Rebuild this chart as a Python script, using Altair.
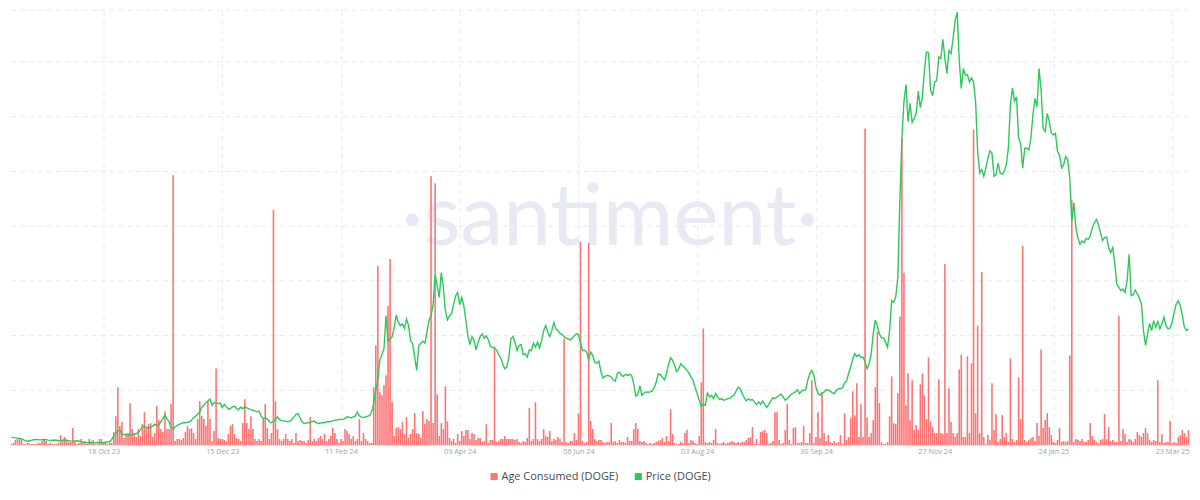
import altair as alt
import pandas as pd

# ---------------- data ----------------
START = "2023-08-31"  # first daily point

price = [
    0.0640, 0.0638, 0.0636, 0.0637, 0.0632, 0.0630, 0.0628, 0.0625, 0.0620, 0.0612,
    0.0600, 0.0598, 0.0605, 0.0608, 0.0612, 0.0614, 0.0613, 0.0611, 0.0612, 0.0614,
    0.0612, 0.0608, 0.0606, 0.0607, 0.0609, 0.0607, 0.0605, 0.0604, 0.0606, 0.0609,
    0.0607, 0.0604, 0.0601, 0.0599, 0.0600, 0.0602, 0.0598, 0.0594, 0.0590, 0.0587,
    0.0585, 0.0584, 0.0583, 0.0582, 0.0584, 0.0586, 0.0583, 0.0582, 0.0584, 0.0586,
    0.0592, 0.0593, 0.0615, 0.0647, 0.0670, 0.0698, 0.0704, 0.0666, 0.0660, 0.0666,
    0.0660, 0.0657, 0.0660, 0.0666, 0.0672, 0.0680, 0.0704, 0.0736, 0.0742, 0.0730,
    0.0720, 0.0730, 0.0742, 0.0761, 0.0749, 0.0755, 0.0784, 0.0815, 0.0847, 0.0815,
    0.0784, 0.0730, 0.0717, 0.0736, 0.0749, 0.0758, 0.0768, 0.0774, 0.0774, 0.0780,
    0.0784, 0.0799, 0.0822, 0.0837, 0.0856, 0.0879, 0.0923, 0.0942, 0.0967, 0.0983,
    0.1002, 0.0942, 0.0967, 0.0964, 0.0958, 0.0964, 0.0920, 0.0951, 0.0926, 0.0904,
    0.0913, 0.0926, 0.0932, 0.0910, 0.0900, 0.0923, 0.0910, 0.0926, 0.0917, 0.0907,
    0.0900, 0.0894, 0.0885, 0.0879, 0.0885, 0.0837, 0.0815, 0.0821, 0.0812, 0.0784,
    0.0774, 0.0787, 0.0806, 0.0831, 0.0806, 0.0793, 0.0793, 0.0790, 0.0784, 0.0790,
    0.0806, 0.0831, 0.0853, 0.0863, 0.0821, 0.0784, 0.0768, 0.0771, 0.0774, 0.0780,
    0.0784, 0.0790, 0.0774, 0.0768, 0.0771, 0.0774, 0.0777, 0.0784, 0.0784, 0.0787,
    0.0793, 0.0799, 0.0802, 0.0806, 0.0806, 0.0809, 0.0815, 0.0831, 0.0828, 0.0821,
    0.0831, 0.0840, 0.0875, 0.0840, 0.0828, 0.0825, 0.0831, 0.0837, 0.0844, 0.0879,
    0.0964, 0.1090, 0.1186, 0.1376, 0.1427, 0.1481, 0.1798, 0.1554, 0.1573, 0.1598,
    0.1687, 0.1804, 0.1734, 0.1703, 0.1719, 0.1677, 0.1766, 0.1703, 0.1560, 0.1529,
    0.1402, 0.1275, 0.1513, 0.1535, 0.1554, 0.1535, 0.1640, 0.1754, 0.1798, 0.1903,
    0.2194, 0.2083, 0.1972, 0.2210, 0.2067, 0.1845, 0.1757, 0.1798, 0.1814, 0.1903,
    0.1988, 0.2020, 0.1903, 0.1972, 0.1893, 0.1750, 0.1608, 0.1522, 0.1598, 0.1560,
    0.1471, 0.1544, 0.1598, 0.1624, 0.1582, 0.1605, 0.1566, 0.1503, 0.1497, 0.1484,
    0.1471, 0.1427, 0.1395, 0.1338, 0.1291, 0.1307, 0.1402, 0.1576, 0.1598, 0.1544,
    0.1465, 0.1513, 0.1522, 0.1427, 0.1433, 0.1402, 0.1471, 0.1465, 0.1535, 0.1497,
    0.1544, 0.1490, 0.1560, 0.1655, 0.1703, 0.1640, 0.1598, 0.1655, 0.1734, 0.1671,
    0.1655, 0.1630, 0.1617, 0.1598, 0.1582, 0.1576, 0.1566, 0.1585, 0.1608, 0.1624,
    0.1617, 0.1535, 0.1465, 0.1465, 0.1449, 0.1376, 0.1449, 0.1417, 0.1354, 0.1345,
    0.1364, 0.1259, 0.1202, 0.1218, 0.1227, 0.1224, 0.1211, 0.1186, 0.1173, 0.1249,
    0.1259, 0.1227, 0.1218, 0.1237, 0.1227, 0.1237, 0.1224, 0.1148, 0.1030, 0.1043,
    0.1129, 0.1037, 0.1059, 0.1069, 0.1066, 0.1069, 0.1078, 0.1110, 0.1164, 0.1243,
    0.1234, 0.1211, 0.1186, 0.1243, 0.1332, 0.1395, 0.1370, 0.1322, 0.1265, 0.1291,
    0.1338, 0.1316, 0.1297, 0.1275, 0.1249, 0.1211, 0.1180, 0.1110, 0.1053, 0.0990,
    0.0932, 0.0951, 0.0942, 0.1059, 0.1021, 0.1037, 0.1005, 0.1053, 0.1021, 0.0996,
    0.1005, 0.0990, 0.0996, 0.1005, 0.1008, 0.1027, 0.1037, 0.1078, 0.1116, 0.1100,
    0.1053, 0.1015, 0.0983, 0.1005, 0.0990, 0.0996, 0.0974, 0.0948, 0.0974, 0.0951,
    0.0983, 0.0951, 0.0920, 0.0951, 0.0983, 0.1015, 0.1005, 0.1021, 0.1037, 0.1047,
    0.1021, 0.0990, 0.1005, 0.1027, 0.1047, 0.1059, 0.1069, 0.1091, 0.1053, 0.1079,
    0.1085, 0.1091, 0.1180, 0.1244, 0.1275, 0.1228, 0.1117, 0.1053, 0.1038, 0.1060,
    0.1069, 0.1091, 0.1085, 0.1079, 0.1060, 0.1053, 0.1085, 0.1101, 0.1101, 0.1110,
    0.1155, 0.1174, 0.1250, 0.1307, 0.1386, 0.1434, 0.1408, 0.1427, 0.1396, 0.1402,
    0.1355, 0.1291, 0.1339, 0.1434, 0.1624, 0.1757, 0.1703, 0.1624, 0.1586, 0.1586,
    0.1545, 0.1497, 0.1656, 0.1941, 0.1925, 0.1979, 0.2163, 0.2892, 0.3494, 0.3843,
    0.4008, 0.3653, 0.3827, 0.3646, 0.3684, 0.3732, 0.3944, 0.3786, 0.3890, 0.4144,
    0.4319, 0.4312, 0.3954, 0.3900, 0.4033, 0.4046, 0.4271, 0.4255, 0.4439, 0.4255,
    0.4112, 0.4334, 0.4303, 0.4445, 0.4620, 0.4699, 0.4239, 0.3970, 0.4160, 0.4097,
    0.4103, 0.4033, 0.4071, 0.4033, 0.3843, 0.3368, 0.3161, 0.3193, 0.3130, 0.3209,
    0.3304, 0.3374, 0.3352, 0.3130, 0.3146, 0.3257, 0.3161, 0.3152, 0.3177, 0.3241,
    0.3399, 0.3811, 0.3976, 0.3849, 0.3890, 0.3494, 0.3447, 0.3209, 0.3399, 0.3399,
    0.3383, 0.3494, 0.3716, 0.3875, 0.3795, 0.4160, 0.3954, 0.3589, 0.3558, 0.3732,
    0.3653, 0.3542, 0.3526, 0.3542, 0.3368, 0.3336, 0.3209, 0.3241, 0.3320, 0.3288,
    0.3114, 0.2702, 0.2876, 0.2638, 0.2537, 0.2480, 0.2512, 0.2496, 0.2537, 0.2527,
    0.2559, 0.2638, 0.2686, 0.2718, 0.2670, 0.2591, 0.2518, 0.2543, 0.2550, 0.2448,
    0.2401, 0.2448, 0.2290, 0.2100, 0.2068, 0.2036, 0.2052, 0.2020, 0.2131, 0.2385,
    0.1989, 0.1998, 0.2043, 0.2005, 0.1966, 0.1909, 0.1656, 0.1513, 0.1624, 0.1725,
    0.1656, 0.1751, 0.1687, 0.1744, 0.1672, 0.1719, 0.1783, 0.1703, 0.1672, 0.1681,
    0.1735, 0.1830, 0.1909, 0.1941, 0.1894, 0.1798, 0.1687, 0.1656, 0.1672, 0.1735,
]

# Age consumed, billions
age = [
    0.4, 0.3, 0.1, 0.1, 0.2, 0.5, 0.6, 0.6, 0.5, 0.1,
    0.1, 0.2, 0.1, 0.1, 0.1, 0.1, 0.2, 0.2, 0.4, 0.5,
    0.4, 0.1, 0.2, 0.1, 0.1, 0.1, 0.2, 1.0, 0.6, 0.8,
    0.5, 0.3, 0.3, 1.7, 0.4, 0.1, 0.2, 0.6, 0.3, 0.4,
    0.1, 0.6, 0.4, 0.5, 0.1, 0.1, 0.6, 0.6, 0.2, 0.4,
    0.1, 0.2, 0.2, 1.3, 2.9, 5.8, 1.9, 2.3, 0.7, 1.1,
    1.2, 4.2, 1.6, 1.2, 0.8, 1.6, 0.9, 2.1, 3.3, 1.7,
    2.1, 2.2, 0.8, 1.2, 3.9, 2.5, 1.6, 1.3, 3.4, 1.6,
    1.6, 4.1, 27.1, 0.4, 0.6, 0.6, 0.5, 0.7, 1.3, 1.9,
    1.6, 1.7, 1.2, 0.6, 2.6, 4.4, 2.9, 2.6, 1.9, 4.4,
    2.6, 0.4, 1.4, 7.7, 0.7, 0.6, 0.6, 0.5, 0.4, 1.1,
    1.9, 2.1, 1.1, 0.7, 0.6, 0.4, 2.2, 4.6, 2.2, 1.6,
    2.9, 1.6, 0.6, 0.4, 0.6, 0.4, 2.6, 4.1, 1.7, 0.6,
    1.2, 23.6, 4.4, 1.6, 0.6, 0.4, 0.6, 1.1, 0.6, 0.4,
    0.6, 0.2, 1.2, 0.4, 0.5, 0.4, 0.4, 0.2, 0.5, 2.8,
    0.4, 0.6, 0.4, 0.7, 0.9, 0.6, 1.1, 0.4, 0.6, 0.9,
    1.7, 1.2, 0.6, 0.2, 0.6, 0.4, 1.6, 1.4, 1.1, 0.6,
    0.9, 0.4, 0.6, 2.6, 0.4, 1.2, 0.6, 0.4, 0.2, 0.2,
    5.8, 10.0, 18.0, 5.3, 5.0, 6.0, 7.0, 14.0, 18.7, 4.3,
    0.9, 1.7, 1.8, 1.6, 2.3, 1.1, 2.8, 0.7, 1.1, 1.6,
    3.2, 1.2, 1.1, 0.7, 3.4, 2.1, 2.6, 2.4, 27.0, 2.2,
    26.3, 5.1, 0.9, 2.2, 1.6, 5.9, 2.4, 0.7, 0.4, 0.6,
    0.2, 1.1, 0.4, 1.4, 0.9, 1.5, 1.5, 0.6, 1.2, 1.1,
    0.5, 0.7, 0.7, 0.3, 0.4, 2.1, 0.2, 0.5, 0.5, 9.9,
    0.3, 0.4, 0.6, 0.6, 0.9, 0.6, 0.6, 0.6, 0.6, 0.5,
    0.6, 0.3, 0.2, 0.4, 0.3, 0.7, 3.7, 0.4, 0.6, 4.3,
    0.6, 0.4, 0.6, 1.6, 0.9, 0.8, 1.4, 0.4, 0.6, 0.5,
    0.8, 0.6, 0.3, 10.7, 0.3, 0.2, 0.4, 0.4, 1.2, 0.5,
    3.2, 20.4, 0.4, 0.2, 0.3, 20.3, 2.4, 1.6, 0.6, 0.4,
    0.5, 0.5, 0.3, 0.2, 0.3, 0.3, 2.2, 0.3, 0.4, 0.2,
    0.5, 0.3, 0.3, 0.2, 0.8, 0.4, 0.4, 1.6, 2.2, 1.6,
    0.4, 0.3, 0.4, 0.2, 0.1, 0.2, 0.1, 0.2, 0.3, 0.4,
    0.5, 0.7, 0.3, 0.9, 0.4, 3.6, 1.1, 0.2, 0.1, 0.1,
    0.3, 0.2, 1.2, 1.5, 0.2, 0.5, 0.4, 0.2, 0.1, 0.9,
    6.3, 11.7, 0.3, 0.2, 0.3, 0.2, 0.5, 1.6, 0.2, 0.1,
    0.2, 0.3, 0.1, 0.2, 0.3, 0.4, 0.3, 0.2, 0.3, 0.2,
    0.3, 0.3, 0.5, 0.7, 0.8, 1.8, 0.1, 0.6, 0.1, 1.3,
    1.4, 1.5, 1.2, 0.1, 0.2, 0.4, 3.3, 3.3, 0.5, 0.1,
    0.2, 1.5, 4.1, 0.5, 0.1, 1.7, 1.8, 0.2, 0.2, 0.3,
    1.9, 0.2, 0.2, 1.2, 6.5, 0.2, 0.8, 3.3, 0.7, 5.3,
    1.2, 0.4, 1.0, 0.3, 0.2, 0.4, 0.2, 0.3, 1.0, 0.1,
    3.2, 0.5, 0.8, 2.7, 5.4, 3.0, 6.2, 0.8, 4.1, 0.8,
    31.8, 2.8, 0.8, 1.2, 2.5, 5.8, 11.4, 4.2, 0.3, 0.1,
    0.1, 0.3, 2.9, 6.9, 2.2, 2.1, 5.2, 12.9, 30.8, 17.3,
    4.0, 7.2, 2.5, 6.5, 1.5, 2.0, 1.5, 6.1, 7.2, 5.0,
    2.6, 8.8, 2.4, 1.8, 1.2, 1.2, 6.6, 1.2, 1.1, 18.2,
    1.2, 5.7, 2.3, 1.2, 0.8, 1.2, 7.6, 9.1, 0.8, 0.8,
    8.9, 1.2, 8.2, 31.7, 3.2, 12.0, 1.2, 17.4, 0.8, 0.1,
    1.0, 0.5, 6.2, 1.5, 3.1, 0.3, 0.6, 3.0, 0.8, 1.2,
    0.3, 8.7, 0.6, 0.3, 0.5, 6.8, 2.6, 20.0, 0.5, 0.3,
    0.5, 0.7, 0.8, 0.4, 2.2, 0.9, 9.6, 1.7, 2.5, 3.2,
    1.8, 1.0, 0.3, 0.2, 0.5, 1.7, 0.3, 0.4, 0.3, 0.4,
    9.0, 24.6, 0.3, 0.6, 0.5, 0.4, 0.6, 0.3, 0.3, 0.5,
    2.2, 0.9, 0.5, 0.3, 0.2, 0.5, 0.6, 3.1, 0.6, 1.8,
    0.4, 0.5, 0.3, 0.3, 13.0, 0.4, 1.6, 1.1, 0.3, 0.6,
    0.5, 0.3, 0.6, 1.3, 1.0, 0.8, 1.2, 1.7, 1.2, 0.5,
    0.3, 0.5, 0.4, 6.5, 0.3, 1.1, 0.2, 0.3, 0.3, 2.4,
    0.2, 0.3, 0.2, 0.8, 1.0, 1.5, 1.2, 0.8, 1.5, 0.4,
]

series_names = ["Age Consumed (DOGE)", "Price (DOGE)"]
series_colors = ["#ff7373", "#2cc95a"]

tick_dates = [
    (2023, 10, 18), (2023, 12, 15), (2024, 2, 11), (2024, 4, 9), (2024, 6, 6),
    (2024, 8, 3), (2024, 9, 30), (2024, 11, 27), (2025, 1, 24), (2025, 3, 23),
]

# horizontal guide levels on the (hidden) price scale
price_grid = [0.1085, 0.1608, 0.2131, 0.2654, 0.3177, 0.3700, 0.4223, 0.4718]
PRICE_DOMAIN = [0.0562, 0.4718]
AGE_DOMAIN = [0, 43.7]

# ---------------- chart ----------------
W, H = 1184, 437
dates = pd.date_range(START, periods=len(price), freq="D")
df = pd.DataFrame({"date": dates, "price": price, "age": age})
# keep only the days that fall inside the visible time window
df_vis = df.iloc[3:579].reset_index(drop=True)

x_domain = [
    alt.DateTime(year=2023, month=9, date=2, hours=19, minutes=12),
    alt.DateTime(year=2025, month=3, date=31, hours=6, minutes=0),
]
tick_values = [alt.DateTime(year=y, month=m, date=d) for (y, m, d) in tick_dates]

GRID = "#e7e9f1"

x_enc = alt.X(
    "date:T",
    scale=alt.Scale(domain=x_domain),
    axis=alt.Axis(
        values=tick_values,
        format="%d %b %y",
        title=None,
        labelFont="Open Sans",
        labelFontSize=7.3,
        labelColor="#9ba3b9",
        labelPadding=3,
        labelFlush=False,
        ticks=False,
        domainColor="#e3e6ee",
        grid=True,
        gridColor=GRID,
        gridDash=[5, 4],
        gridWidth=1,
    ),
)

hgrid = alt.Chart(pd.DataFrame({"g": price_grid})).mark_rule(
    color=GRID, strokeDash=[5, 4], strokeWidth=1
).encode(
    x=alt.value(0),
    x2=alt.value(W - 1),
    y=alt.Y("g:Q", scale=alt.Scale(domain=PRICE_DOMAIN, nice=False, zero=False), axis=None),
)

watermark = alt.Chart(pd.DataFrame({"t": ["\u00b7santiment\u00b7"]})).mark_text(
    font="Lato",
    fontSize=86,
    color="#e8eaf3",
    align="center",
    baseline="alphabetic",
).encode(x=alt.value(602), y=alt.value(236), text="t:N")

# daily bars drawn as thick rules from the baseline up to the value
bars = alt.Chart(df_vis).mark_rule(color=series_colors[0], strokeWidth=1.6).encode(
    x=x_enc,
    y=alt.Y("age:Q", scale=alt.Scale(domain=AGE_DOMAIN, nice=False, zero=True), axis=None),
    y2=alt.value(H),
)

line = alt.Chart(df_vis).mark_line(color=series_colors[1], strokeWidth=1.4).encode(
    x=x_enc,
    y=alt.Y("price:Q", scale=alt.Scale(domain=PRICE_DOMAIN, nice=False, zero=False), axis=None),
)

legend_layer = alt.Chart(pd.DataFrame({"series": series_names})).mark_square(
    size=50, opacity=0, filled=True
).encode(
    x=alt.value(600),
    y=alt.value(200),
    color=alt.Color(
        "series:N",
        scale=alt.Scale(domain=series_names, range=series_colors),
        legend=alt.Legend(
            orient="none",
            legendX=480,
            legendY=463,
            direction="horizontal",
            title=None,
            symbolType="square",
            symbolSize=50,
            symbolOpacity=1,
            labelFont="Open Sans",
            labelFontSize=11,
            labelColor="#4a4a4a",
            labelOffset=2,
            columnPadding=14,
        ),
    ),
)

chart = (
    alt.layer(hgrid, watermark, bars, line, legend_layer)
    .resolve_scale(y="independent")
    .properties(width=W, height=H, padding=0, background="white")
    .configure_view(stroke=None)
)

chart.save("out.html", embed_options={"renderer": "svg", "actions": False})
